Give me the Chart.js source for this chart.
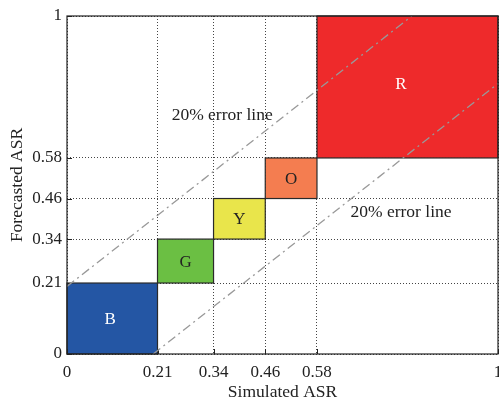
<!DOCTYPE html>
<html>
<head>
<meta charset="utf-8">
<script src="https://cdn.jsdelivr.net/npm/chart.js@4/dist/chart.umd.min.js"></script>
<style>
  html, body { margin: 0; padding: 0; background: #fff; }
  #wrap { width: 499px; height: 403px; }
</style>
</head>
<body>
<div id="wrap"><canvas id="c" width="499" height="403"></canvas></div>
<script>
// Risk classes: boundaries on both axes
const tickValues = [0, 0.21, 0.34, 0.46, 0.58, 1];
const classLabels = ['B', 'G', 'Y', 'O', 'R'];
const classLow = [0, 0.21, 0.34, 0.46, 0.58];
const classHigh = [0.21, 0.34, 0.46, 0.58, 1];
const classColors = ['#2456a4', '#6bbf43', '#e9e54b', '#f47d50', '#ee2a2b'];
const classTextColors = ['#ffffff', '#222222', '#222222', '#222222', '#ffffff'];
// where each class letter sits (data coordinates)
const labelX = [0.10, 0.275, 0.40, 0.52, 0.775];
const labelY = [0.105, 0.275, 0.40, 0.52, 0.80];

// ±20% error bounds
const upperX = [0, 0.8];
const upperY = [0.2, 1];
const lowerX = [0.2, 1];
const lowerY = [0, 0.8];

// Error-line captions (data coordinates of the text centre)
const captionText = ['20% error line', '20% error line'];
const captionX = [0.36, 0.775];
const captionY = [0.707, 0.42];

const serif = '"Liberation Serif", "DejaVu Serif", serif';

const classBoxes = {
  id: 'classBoxes',
  beforeDatasetsDraw(chart) {
    const { ctx, chartArea: a, scales: { x, y } } = chart;
    ctx.save();
    for (let i = 0; i < classLabels.length; i++) {
      const x0 = x.getPixelForValue(classLow[i]);
      const x1 = x.getPixelForValue(classHigh[i]);
      const y0 = y.getPixelForValue(classLow[i]);
      const y1 = y.getPixelForValue(classHigh[i]);
      ctx.fillStyle = classColors[i];
      ctx.fillRect(x0, y1, x1 - x0, y0 - y1);
      ctx.strokeStyle = '#2a2a2a';
      ctx.lineWidth = 1.2;
      ctx.strokeRect(x0, y1, x1 - x0, y0 - y1);
      ctx.fillStyle = classTextColors[i];
      ctx.font = '17px ' + serif;
      ctx.textAlign = 'center';
      ctx.textBaseline = 'middle';
      ctx.fillText(classLabels[i], x.getPixelForValue(labelX[i]), y.getPixelForValue(labelY[i]) + 1);
    }
    // short inward tick marks on the bottom and left axes
    ctx.strokeStyle = '#222222';
    ctx.lineWidth = 1;
    ctx.beginPath();
    tickValues.forEach(v => {
      const px = Math.round(x.getPixelForValue(v)) + 0.5;
      ctx.moveTo(px, a.bottom);
      ctx.lineTo(px, a.bottom - 5);
      const py = Math.round(y.getPixelForValue(v)) + 0.5;
      ctx.moveTo(a.left, py);
      ctx.lineTo(a.left + 5, py);
    });
    ctx.stroke();
    ctx.restore();
  },
  afterDatasetsDraw(chart) {
    const { ctx, chartArea: a, scales: { x, y } } = chart;
    ctx.save();
    ctx.fillStyle = '#222222';
    ctx.font = '17.5px ' + serif;
    ctx.textAlign = 'center';
    ctx.textBaseline = 'middle';
    for (let i = 0; i < captionText.length; i++) {
      ctx.fillText(captionText[i], x.getPixelForValue(captionX[i]), y.getPixelForValue(captionY[i]));
    }
    ctx.strokeStyle = '#222222';
    ctx.lineWidth = 1.2;
    ctx.strokeRect(a.left, a.top, a.right - a.left, a.bottom - a.top);
    ctx.restore();
  }
};

const toPts = (xs, ys) => xs.map((v, i) => ({ x: v, y: ys[i] }));

new Chart(document.getElementById('c'), {
  type: 'scatter',
  data: {
    datasets: [
      {
        data: toPts(upperX, upperY),
        showLine: true,
        borderColor: '#999999',
        borderWidth: 1.3,
        borderDash: [9, 4, 2, 4],
        pointRadius: 0
      },
      {
        data: toPts(lowerX, lowerY),
        showLine: true,
        borderColor: '#999999',
        borderWidth: 1.3,
        borderDash: [9, 4, 2, 4],
        pointRadius: 0
      }
    ]
  },
  options: {
    responsive: false,
    animation: false,
    devicePixelRatio: 1,
    layout: { padding: { top: 16, right: 1, left: 0, bottom: 0 } },
    plugins: { legend: { display: false }, tooltip: { enabled: false } },
    scales: {
      x: {
        type: 'linear',
        min: 0,
        max: 1,
        afterBuildTicks(s) { s.ticks = tickValues.map(v => ({ value: v })); },
        afterFit(s) { s.height = 49; s.paddingLeft = 0; s.paddingRight = 0; },
        grid: {
          color: '#444444',
          lineWidth: 1,
          drawTicks: false
        },
        border: { display: false, dash: [1, 2] },
        ticks: {
          padding: 8,
          color: '#222222',
          font: { family: serif, size: 17 },
          callback: v => String(v)
        },
        title: {
          display: true,
          text: 'Simulated ASR',
          color: '#222222',
          font: { family: serif, size: 17.5 },
          padding: { top: 0, bottom: 0 }
        }
      },
      y: {
        type: 'linear',
        min: 0,
        max: 1,
        afterBuildTicks(s) { s.ticks = tickValues.map(v => ({ value: v })); },
        afterFit(s) { s.width = 67; s.paddingTop = 0; s.paddingBottom = 0; },
        grid: {
          color: '#444444',
          lineWidth: 1,
          drawTicks: false
        },
        border: { display: false, dash: [1, 2] },
        ticks: {
          padding: 5,
          color: '#222222',
          font: { family: serif, size: 17 },
          callback: v => String(v)
        },
        title: {
          display: true,
          text: 'Forecasted ASR',
          color: '#222222',
          font: { family: serif, size: 17.5 },
          padding: { top: 7, bottom: 0 }
        }
      }
    }
  },
  plugins: [classBoxes]
});
</script>
</body>
</html>
